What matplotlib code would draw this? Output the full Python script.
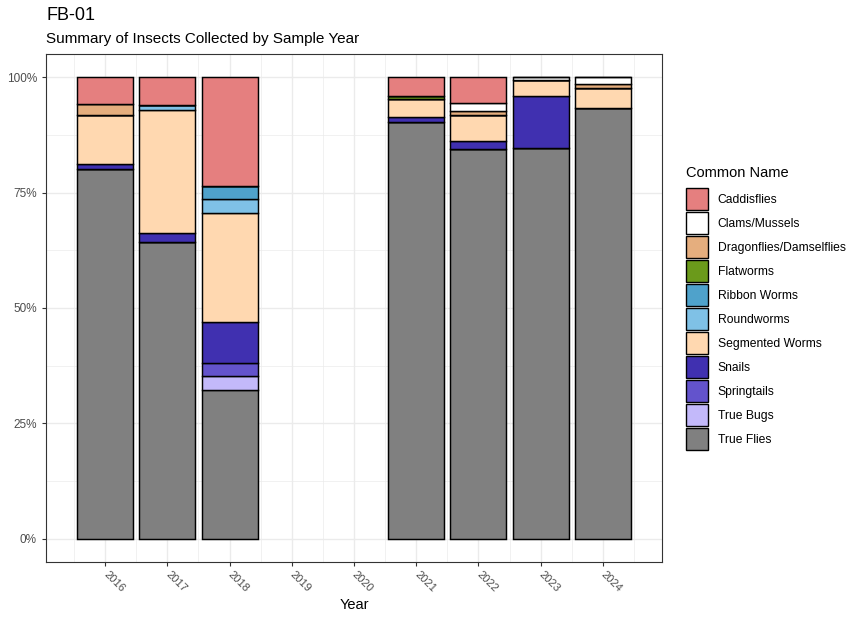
import matplotlib
matplotlib.use("Agg")
from matplotlib import pyplot as plt
from matplotlib.patches import Patch
from matplotlib.ticker import FixedLocator, PercentFormatter
import numpy as np

plt.rcParams['font.family'] = ['Liberation Sans', 'DejaVu Sans']

# Years with samples (2019 and 2020 have none)
years = [2016, 2017, 2018, 2021, 2022, 2023, 2024]
all_years = list(range(2016, 2025))

# Share of each group per year, in percent
caddisflies = [5.8, 6.1, 23.6, 4.0, 5.6, 0.0, 0.0]
clams_mussels = [0.0, 0.0, 0.0, 0.0, 1.8, 0.6, 1.5]
dragonflies = [2.5, 0.0, 0.0, 0.0, 0.8, 0.0, 0.8]
flatworms = [0.0, 0.0, 0.0, 0.8, 0.0, 0.0, 0.0]
ribbon_worms = [0.0, 0.0, 2.8, 0.0, 0.0, 0.0, 0.0]
roundworms = [0.0, 1.0, 3.0, 0.0, 0.0, 0.0, 0.0]
segmented_worms = [10.6, 26.7, 23.6, 3.9, 5.6, 3.5, 4.3]
snails = [1.1, 1.9, 8.9, 1.0, 1.8, 11.2, 0.0]
springtails = [0.0, 0.0, 2.8, 0.0, 0.0, 0.0, 0.0]
true_bugs = [0.0, 0.0, 3.0, 0.0, 0.0, 0.0, 0.0]
true_flies = [80.0, 64.3, 32.3, 90.3, 84.4, 84.7, 93.4]

groups = ["Caddisflies", "Clams/Mussels", "Dragonflies/Damselflies", "Flatworms",
          "Ribbon Worms", "Roundworms", "Segmented Worms", "Snails", "Springtails",
          "True Bugs", "True Flies"]
values = [caddisflies, clams_mussels, dragonflies, flatworms, ribbon_worms, roundworms,
          segmented_worms, snails, springtails, true_bugs, true_flies]
colors = ["#E57F7F", "#FFFFFF", "#E5AE7E", "#6B9A1B", "#4FA2CB", "#7FC1E6",
          "#FFD8B0", "#4030B0", "#6353CC", "#C3B9FA", "#808080"]

fig = plt.figure(figsize=(8.61, 6.22), dpi=100)
ax = fig.add_axes([46 / 861, 1 - 562 / 622, (662 - 46) / 861, (562 - 54) / 622])

# Normalise each year to 100%
totals = np.sum(np.array(values), axis=0)

# Stack from the bottom (True Flies) to the top (Caddisflies)
bottom = np.zeros(len(years))
for name, vals, col in reversed(list(zip(groups, values, colors))):
    share = np.array(vals) / totals
    ax.bar(years, share, width=0.9, bottom=bottom, color=col,
           edgecolor='black', linewidth=1.05, zorder=3)
    bottom += share

ax.set_xlim(2015.05, 2024.95)
ax.set_ylim(-0.05, 1.05)
ax.set_xticks(all_years)
ax.set_xticklabels([str(y) for y in all_years], rotation=-45, ha='left', va='center',
                   rotation_mode='anchor')
ax.set_yticks([0, 0.25, 0.5, 0.75, 1.0])
ax.yaxis.set_major_formatter(PercentFormatter(1.0, decimals=0))
ax.xaxis.set_minor_locator(FixedLocator(np.arange(2015.5, 2025, 1.0)))
ax.yaxis.set_minor_locator(FixedLocator([0.125, 0.375, 0.625, 0.875]))

ax.grid(which='major', color='#EBEBEB', linewidth=1.0, zorder=0)
ax.grid(which='minor', color='#EBEBEB', linewidth=0.5, zorder=0)
ax.set_axisbelow(True)
for s in ax.spines.values():
    s.set_color('#333333')
    s.set_linewidth(0.8)
ax.tick_params(which='major', length=3, color='#333333', labelcolor='#4D4D4D',
               labelsize=8.5)
ax.tick_params(which='minor', length=0)
ax.tick_params(axis='x', pad=4.5, labelsize=8)

ax.set_xlabel('Year', fontsize=10.5, va='center')
ax.xaxis.set_label_coords(0.5, (562 - 605) / 508)

fig.text(46 / 861, 1 - 15 / 622, 'FB-01', fontsize=13, va='center', ha='left')
fig.text(46 / 861, 1 - 38.5 / 622, 'Summary of Insects Collected by Sample Year',
         fontsize=11, va='center', ha='left')

# Legend title drawn separately for spacing control
fig.text(686 / 861, 1 - 173 / 622, 'Common Name', fontsize=10.5, va='center', ha='left')
handles = [Patch(facecolor=c, edgecolor='black', linewidth=1.0) for c in colors]
leg = fig.legend(handles, groups, loc='upper left',
                 bbox_to_anchor=(686 / 861, 1 - 188 / 622), frameon=False,
                 fontsize=8.7, handlelength=1.82, handleheight=2.42,
                 labelspacing=0.17, handletextpad=0.8, borderpad=0,
                 borderaxespad=0)

fig.savefig('out.png', dpi=100)
